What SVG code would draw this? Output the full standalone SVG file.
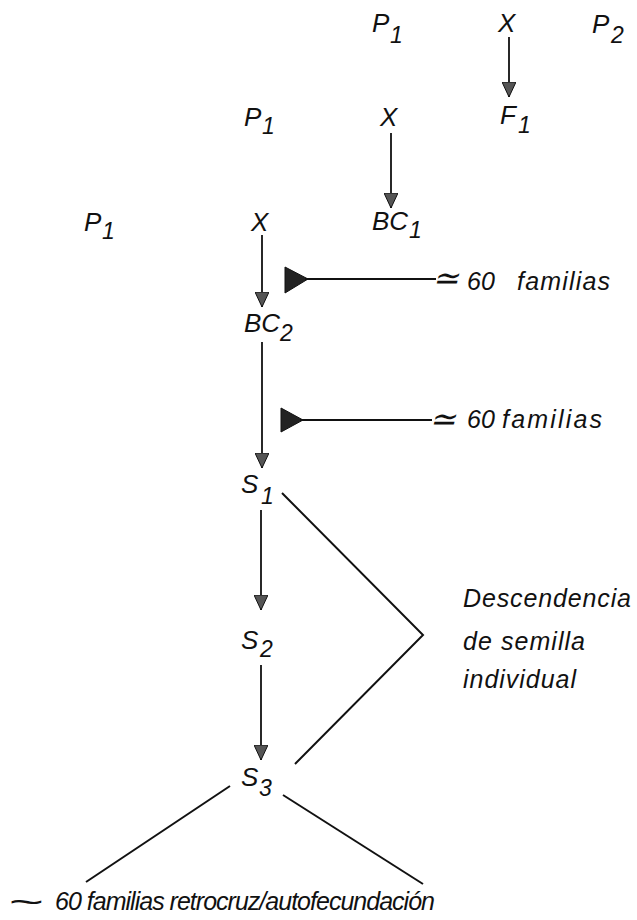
<svg xmlns="http://www.w3.org/2000/svg" width="637" height="920" viewBox="0 0 637 920">
<defs>
<style>
text{font-family:"Liberation Sans",Arial,sans-serif;font-style:italic;fill:#111}
.lbl{font-size:26px}
.sub{font-size:23px}
.note{font-size:25px}
.approx{font-size:32px}
.shaft{stroke:#111;stroke-width:1.8;fill:none}
.line{stroke:#111;stroke-width:2;fill:none}
.tail{fill:#222;stroke:#111;stroke-width:1}
</style>
<marker id="ah" markerUnits="userSpaceOnUse" viewBox="0 0 15 14" refX="15" refY="7" markerWidth="15" markerHeight="14" orient="auto">
<path d="M0,0 L15,7 L0,14 Z" fill="#555" stroke="#111" stroke-width="1"/>
</marker>
</defs>
<rect width="637" height="920" fill="#fff"/>

<g id="p1-top"><text class="lbl" x="372" y="32">P</text><text class="sub" x="390" y="43">1</text></g>
<g id="x-top"><text class="lbl" x="498" y="32">X</text></g>
<g id="p2-top"><text class="lbl" x="592" y="33">P</text><text class="sub" x="611" y="43">2</text></g>
<g id="f1"><text class="lbl" x="500" y="124">F</text><text class="sub" x="518" y="133">1</text></g>
<g id="p1-mid"><text class="lbl" x="244" y="126">P</text><text class="sub" x="262" y="134">1</text></g>
<g id="x-mid"><text class="lbl" x="380" y="126">X</text></g>
<g id="bc1"><text class="lbl" x="372" y="230">BC</text><text class="sub" x="409" y="238">1</text></g>
<g id="p1-low"><text class="lbl" x="84" y="231">P</text><text class="sub" x="102" y="239">1</text></g>
<g id="x-low"><text class="lbl" x="251" y="231">X</text></g>
<g id="bc2"><text class="lbl" x="244" y="332">BC</text><text class="sub" x="280" y="341">2</text></g>
<g id="s1"><text class="lbl" x="241" y="493">S</text><text class="sub" x="261" y="504">1</text></g>
<g id="s2"><text class="lbl" x="241" y="649">S</text><text class="sub" x="260" y="657">2</text></g>
<g id="s3"><text class="lbl" x="241" y="786">S</text><text class="sub" x="259" y="796">3</text></g>

<g id="note-bc2"><text class="approx" x="432" y="289">≃</text><text class="note" x="467" y="290">60</text><text class="note" x="517" y="290" textLength="93">familias</text></g>
<g id="note-s1"><text class="approx" x="429" y="430">≃</text><text class="note" x="467" y="428">60</text><text class="note" x="502" y="428" textLength="100">familias</text></g>
<g id="note-ssd"><text class="note" x="463" y="607" textLength="168">Descendencia</text><text class="note" x="463" y="650" textLength="122">de semilla</text><text class="note" x="463" y="688" textLength="113">individual</text></g>
<g id="note-bottom"><text style="font-size:32px" x="8" y="913" textLength="35" lengthAdjust="spacingAndGlyphs">~</text><text class="note" x="55" y="910" textLength="380">60 familias retrocruz/autofecundación</text></g>

<g id="connectors">
<line class="shaft" x1="509" y1="37" x2="509" y2="97" marker-end="url(#ah)"/>
<line class="shaft" x1="391" y1="133" x2="391" y2="208" marker-end="url(#ah)"/>
<line class="shaft" x1="262" y1="235" x2="262" y2="307" marker-end="url(#ah)"/>
<line class="shaft" x1="262" y1="342" x2="262" y2="468" marker-end="url(#ah)"/>
<line class="shaft" x1="261" y1="510" x2="261" y2="610" marker-end="url(#ah)"/>
<line class="shaft" x1="261" y1="665" x2="261" y2="760" marker-end="url(#ah)"/>
<polygon class="tail" points="285,267 285,293 308,279"/>
<line class="shaft" x1="305" y1="279" x2="436" y2="279"/>
<polygon class="tail" points="281,408 281,432 303,420"/>
<line class="shaft" x1="300" y1="420" x2="432" y2="420"/>
<polyline class="line" points="282,493 423,635 295,764"/>
<line class="line" x1="230" y1="786" x2="86" y2="882"/>
<line class="line" x1="283" y1="795" x2="423" y2="884"/>
</g>
</svg>
